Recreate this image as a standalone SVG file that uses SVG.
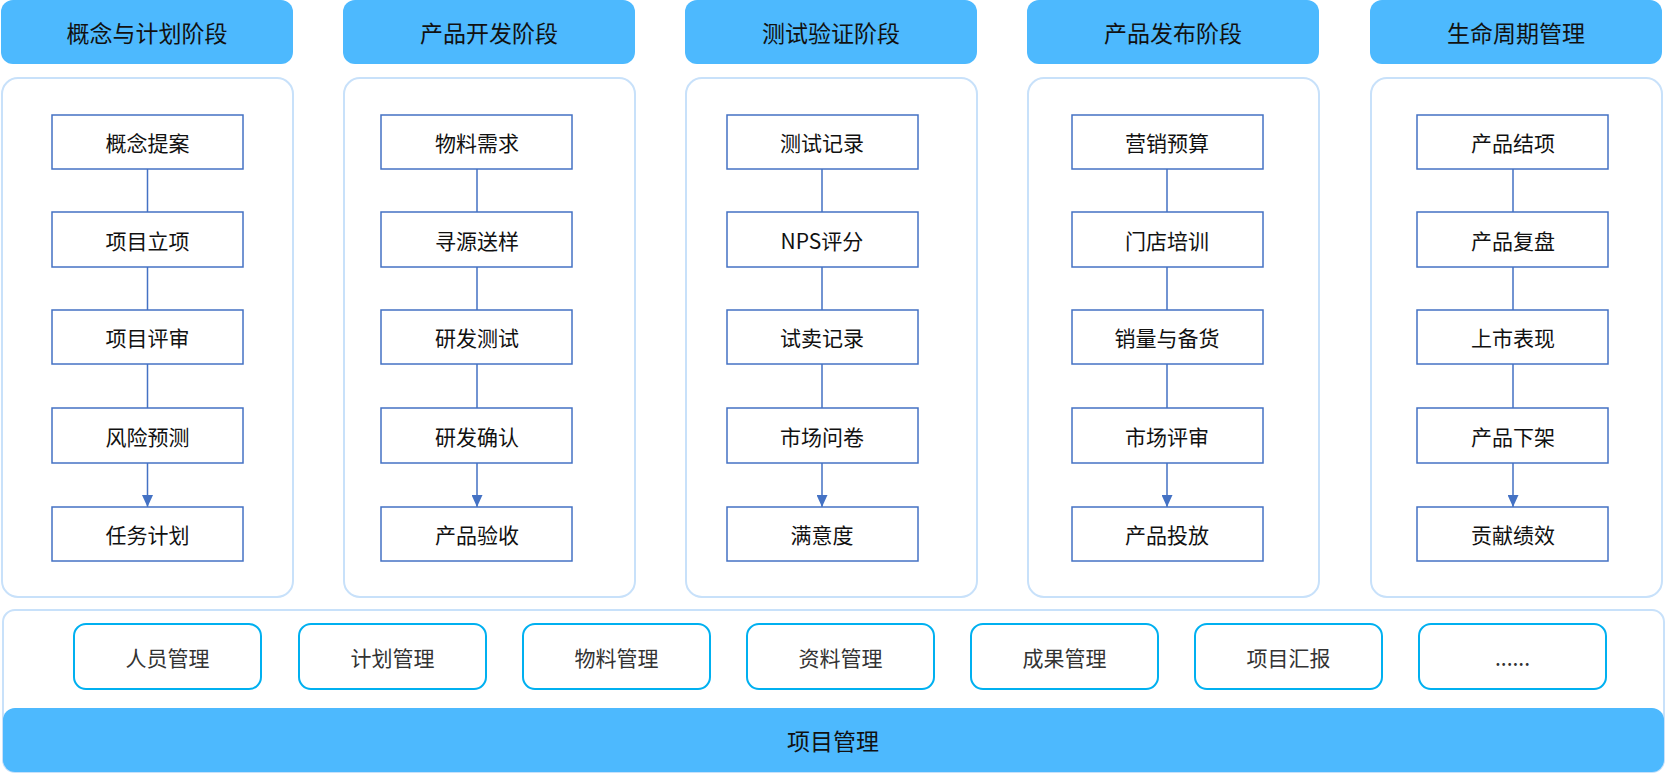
<svg xmlns="http://www.w3.org/2000/svg" width="1666" height="773" viewBox="0 0 1666 773">
<style>
text{font-family:"Noto Sans CJK SC","Noto Sans",sans-serif;text-anchor:middle;dominant-baseline:central;fill:#111}
.hd{fill:#4DB9FE}
.ht{font-size:23px}
.pn{fill:#fff;stroke:#C8E1FA;stroke-width:2}
.bx{fill:#fff;stroke:#4472C4;stroke-width:1.5}
.bt{font-size:21px}
.pl{fill:#fff;stroke:#00B0F0;stroke-width:2}
.pt{font-size:21px;fill:#333}
.ln{stroke:#4472C4;stroke-width:1.5;fill:none}
</style>
<defs><marker id="ar" markerWidth="12" markerHeight="11" refX="12" refY="5.5" orient="auto" markerUnits="userSpaceOnUse"><path d="M0,0L12,5.5L0,11Z" fill="#4472C4"/></marker></defs>
<g id="col1"><rect class="hd" x="1" y="0" width="292" height="64" rx="12"/><text class="ht" x="147" y="32">概念与计划阶段</text><rect class="pn" x="2" y="78" width="291" height="519" rx="16"/></g>
<g id="col2"><rect class="hd" x="343" y="0" width="292" height="64" rx="12"/><text class="ht" x="489" y="32">产品开发阶段</text><rect class="pn" x="344" y="78" width="291" height="519" rx="16"/></g>
<g id="col3"><rect class="hd" x="685" y="0" width="292" height="64" rx="12"/><text class="ht" x="831" y="32">测试验证阶段</text><rect class="pn" x="686" y="78" width="291" height="519" rx="16"/></g>
<g id="col4"><rect class="hd" x="1027" y="0" width="292" height="64" rx="12"/><text class="ht" x="1173" y="32">产品发布阶段</text><rect class="pn" x="1028" y="78" width="291" height="519" rx="16"/></g>
<g id="col5"><rect class="hd" x="1370" y="0" width="292" height="64" rx="12"/><text class="ht" x="1516" y="32">生命周期管理</text><rect class="pn" x="1371" y="78" width="291" height="519" rx="16"/></g>
<g id="connectors">
<path class="ln" marker-end="url(#ar)" d="M147.5,169V212M147.5,267V310M147.5,364V408M147.5,463V507"/>
<path class="ln" marker-end="url(#ar)" d="M477,169V212M477,267V310M477,364V408M477,463V507"/>
<path class="ln" marker-end="url(#ar)" d="M822,169V212M822,267V310M822,364V408M822,463V507"/>
<path class="ln" marker-end="url(#ar)" d="M1167,169V212M1167,267V310M1167,364V408M1167,463V507"/>
<path class="ln" marker-end="url(#ar)" d="M1513,169V212M1513,267V310M1513,364V408M1513,463V507"/>
</g>
<g id="n1a"><rect class="bx" x="52" y="115" width="191" height="54"/><text class="bt" x="147.5" y="142">概念提案</text></g>
<g id="n1b"><rect class="bx" x="52" y="212" width="191" height="55"/><text class="bt" x="147.5" y="239.5">项目立项</text></g>
<g id="n1c"><rect class="bx" x="52" y="310" width="191" height="54"/><text class="bt" x="147.5" y="337">项目评审</text></g>
<g id="n1d"><rect class="bx" x="52" y="408" width="191" height="55"/><text class="bt" x="147.5" y="435.5">风险预测</text></g>
<g id="n1e"><rect class="bx" x="52" y="507" width="191" height="54"/><text class="bt" x="147.5" y="534">任务计划</text></g>
<g id="n2a"><rect class="bx" x="381" y="115" width="191" height="54"/><text class="bt" x="477" y="142">物料需求</text></g>
<g id="n2b"><rect class="bx" x="381" y="212" width="191" height="55"/><text class="bt" x="477" y="239.5">寻源送样</text></g>
<g id="n2c"><rect class="bx" x="381" y="310" width="191" height="54"/><text class="bt" x="477" y="337">研发测试</text></g>
<g id="n2d"><rect class="bx" x="381" y="408" width="191" height="55"/><text class="bt" x="477" y="435.5">研发确认</text></g>
<g id="n2e"><rect class="bx" x="381" y="507" width="191" height="54"/><text class="bt" x="477" y="534">产品验收</text></g>
<g id="n3a"><rect class="bx" x="727" y="115" width="191" height="54"/><text class="bt" x="822" y="142">测试记录</text></g>
<g id="n3b"><rect class="bx" x="727" y="212" width="191" height="55"/><text class="bt" x="822" y="239.5">NPS评分</text></g>
<g id="n3c"><rect class="bx" x="727" y="310" width="191" height="54"/><text class="bt" x="822" y="337">试卖记录</text></g>
<g id="n3d"><rect class="bx" x="727" y="408" width="191" height="55"/><text class="bt" x="822" y="435.5">市场问卷</text></g>
<g id="n3e"><rect class="bx" x="727" y="507" width="191" height="54"/><text class="bt" x="822" y="534">满意度</text></g>
<g id="n4a"><rect class="bx" x="1072" y="115" width="191" height="54"/><text class="bt" x="1167" y="142">营销预算</text></g>
<g id="n4b"><rect class="bx" x="1072" y="212" width="191" height="55"/><text class="bt" x="1167" y="239.5">门店培训</text></g>
<g id="n4c"><rect class="bx" x="1072" y="310" width="191" height="54"/><text class="bt" x="1167" y="337">销量与备货</text></g>
<g id="n4d"><rect class="bx" x="1072" y="408" width="191" height="55"/><text class="bt" x="1167" y="435.5">市场评审</text></g>
<g id="n4e"><rect class="bx" x="1072" y="507" width="191" height="54"/><text class="bt" x="1167" y="534">产品投放</text></g>
<g id="n5a"><rect class="bx" x="1417" y="115" width="191" height="54"/><text class="bt" x="1513" y="142">产品结项</text></g>
<g id="n5b"><rect class="bx" x="1417" y="212" width="191" height="55"/><text class="bt" x="1513" y="239.5">产品复盘</text></g>
<g id="n5c"><rect class="bx" x="1417" y="310" width="191" height="54"/><text class="bt" x="1513" y="337">上市表现</text></g>
<g id="n5d"><rect class="bx" x="1417" y="408" width="191" height="55"/><text class="bt" x="1513" y="435.5">产品下架</text></g>
<g id="n5e"><rect class="bx" x="1417" y="507" width="191" height="54"/><text class="bt" x="1513" y="534">贡献绩效</text></g>
<g id="bottom"><rect class="pn" x="3" y="610" width="1661" height="162" rx="12"/></g>
<g id="p1"><rect class="pl" x="74" y="624" width="187" height="65" rx="12"/><text class="pt" x="167.5" y="657">人员管理</text></g>
<g id="p2"><rect class="pl" x="299" y="624" width="187" height="65" rx="12"/><text class="pt" x="392.5" y="657">计划管理</text></g>
<g id="p3"><rect class="pl" x="523" y="624" width="187" height="65" rx="12"/><text class="pt" x="616.5" y="657">物料管理</text></g>
<g id="p4"><rect class="pl" x="747" y="624" width="187" height="65" rx="12"/><text class="pt" x="840.5" y="657">资料管理</text></g>
<g id="p5"><rect class="pl" x="971" y="624" width="187" height="65" rx="12"/><text class="pt" x="1064.5" y="657">成果管理</text></g>
<g id="p6"><rect class="pl" x="1195" y="624" width="187" height="65" rx="12"/><text class="pt" x="1288.5" y="657">项目汇报</text></g>
<g id="p7"><rect class="pl" x="1419" y="624" width="187" height="65" rx="12"/><text class="pt" x="1512.5" y="657">......</text></g>
<g id="bar"><rect class="hd" x="3" y="708" width="1661" height="64" rx="12"/><text class="ht" x="833" y="740">项目管理</text></g>
</svg>
